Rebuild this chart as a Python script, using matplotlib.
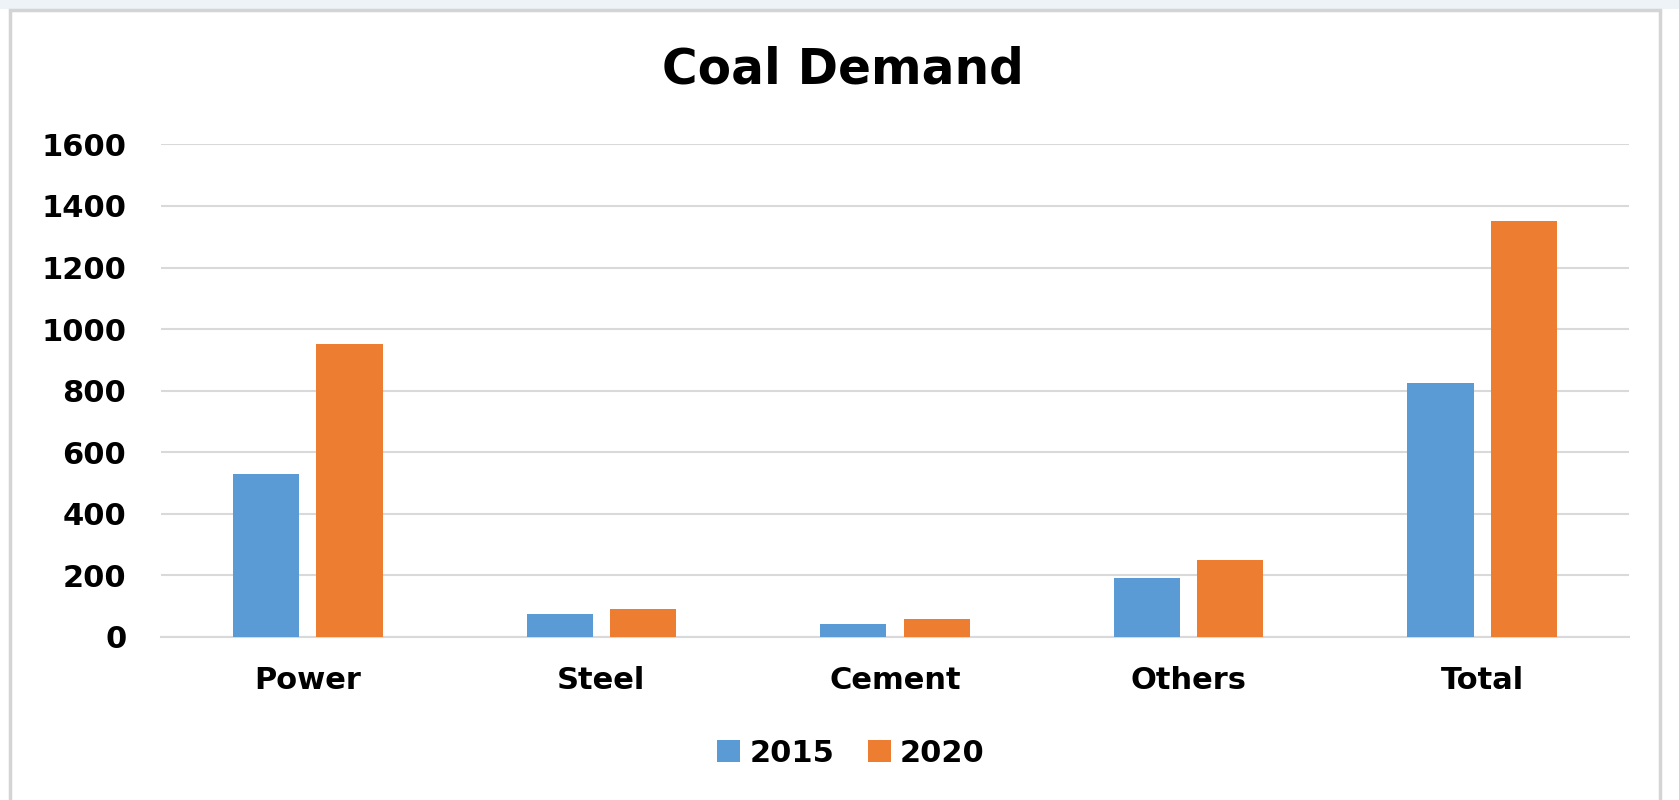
import numpy as np
import matplotlib
matplotlib.use("Agg")
import matplotlib.pyplot as plt
from matplotlib.patches import Rectangle

# data
categories = ["Power", "Steel", "Cement", "Others", "Total"]
years = ["2015", "2020"]
demand_2015 = [528, 76, 41, 191, 824]
demand_2020 = [951, 92, 58, 249, 1350]
yticks = [0, 200, 400, 600, 800, 1000, 1200, 1400, 1600]

blue = "#5b9bd5"
orange = "#ed7d31"
grid_col = "#d9d9d9"

plt.rcParams["font.family"] = ["DejaVu Sans"]
plt.rcParams["font.weight"] = "bold"

W, H = 1679, 800
fig = plt.figure(figsize=(W / 100, H / 100), dpi=100)

# spreadsheet-like frame around the chart, kept behind the axes
fig.patches.append(Rectangle((0, 1 - 9 / H), 1, 9 / H, transform=fig.transFigure,
                             facecolor="#eef3f8", edgecolor="none", zorder=-10))
fig.patches.append(Rectangle((10 / W, -0.05), 1650 / W, 1.05 - 10 / H,
                             transform=fig.transFigure, facecolor="white",
                             edgecolor="#d4d4d4", linewidth=2.5, zorder=-9))

ax = fig.add_axes([161 / W, 1 - 637 / H, (1629 - 161) / W, (637 - 143.5) / H])
ax.set_facecolor("none")

x = np.arange(len(categories))
bw = 0.225
off = 0.142
ax.bar(x - off, demand_2015, width=bw, color=blue, label=years[0], zorder=3)
ax.bar(x + off, demand_2020, width=bw, color=orange, label=years[1], zorder=3)

ax.set_xlim(-0.5, len(categories) - 0.5)
ax.set_ylim(0, 1603)
ax.set_yticks(yticks)
ax.set_xticks(x)
ax.set_xticklabels(categories)
ax.tick_params(axis="y", length=0, pad=25, labelsize=22)
ax.tick_params(axis="x", length=0, pad=21, labelsize=22)
for lab in ax.get_xticklabels() + ax.get_yticklabels():
    lab.set_fontweight("bold")

ax.yaxis.grid(True, color=grid_col, linewidth=1.5, zorder=0)
for s in ["top", "right", "left"]:
    ax.spines[s].set_visible(False)
ax.spines["bottom"].set_color(grid_col)
ax.spines["bottom"].set_linewidth(1.5)

fig.text(843 / W, 1 - 70 / H, "Coal Demand", ha="center", va="center",
         fontsize=35, fontweight="bold")

fig.legend(loc="center", bbox_to_anchor=(851 / W, 1 - 753 / H), ncol=2,
           frameon=False, handlelength=0.75, handleheight=0.75,
           handletextpad=0.3, columnspacing=1.1,
           prop={"weight": "bold", "size": 22})

fig.savefig("out.png", dpi=100)
